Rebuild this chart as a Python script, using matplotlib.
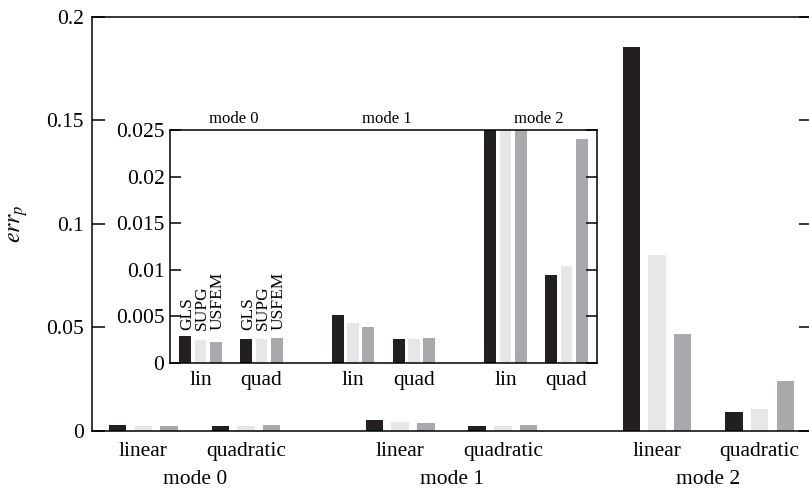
import numpy as np
import matplotlib
matplotlib.use("Agg")
import matplotlib.pyplot as plt

plt.rcParams["font.family"] = ["Liberation Serif", "DejaVu Serif"]
plt.rcParams["mathtext.fontset"] = "stix"

modes = ["mode 0", "mode 1", "mode 2"]
orders = ["linear", "quadratic"]
short_orders = ["lin", "quad"]
methods = ["GLS", "SUPG", "USFEM"]
colors = ["#231f20", "#e6e7e8", "#a7a9ac"]

# err_p per method, groups: m0 lin, m0 quad, m1 lin, m1 quad, m2 lin, m2 quad
gls = [0.0029, 0.0026, 0.0051, 0.0026, 0.1855, 0.0094]
supg = [0.0025, 0.0026, 0.0043, 0.0026, 0.085, 0.0104]
usfem = [0.0023, 0.0027, 0.0039, 0.0027, 0.047, 0.024]
values = [gls, supg, usfem]

# group centres: 4 apart within a mode, 10 apart between modes
centers = np.array([0, 4, 10, 14, 20, 24])
mode_centers = np.array([2, 12, 22])

fig = plt.figure(figsize=(8.09, 4.93), dpi=100)
ax = fig.add_axes([92 / 809, 1 - 431 / 493, (811 - 92) / 809, (431 - 16.5) / 493])

for k in range(3):
    ax.bar(centers + (k - 1), values[k], width=0.68, color=colors[k], linewidth=0)

ax.set_xlim(-2, 26)
ax.set_ylim(0, 0.2)
ax.set_yticks([0, 0.05, 0.1, 0.15, 0.2])
ax.set_yticklabels(["0", "0.05", "0.1", "0.15", "0.2"])
ax.tick_params(axis="y", direction="in", length=9, width=1.1, labelsize=15.5,
               right=True, pad=6)
ax.set_xticks(centers)
ax.set_xticklabels(orders * 3)
ax.tick_params(axis="x", length=0, labelsize=15.5, pad=8)
for i, m in enumerate(modes):
    ax.text(mode_centers[i], -0.118, m, ha="center", va="center", fontsize=15.5,
            transform=ax.get_xaxis_transform())
for s in ax.spines.values():
    s.set_linewidth(1.1)
ax.set_ylabel("$err_p$", fontsize=17)
ax.yaxis.set_label_coords(-0.086, 0.5)

# inset zoom
ins = fig.add_axes([170 / 809, 1 - 363 / 493, (597 - 170) / 809, (363 - 130) / 493])
ins.set_facecolor("white")
for k in range(3):
    ins.bar(centers + (k - 1), values[k], width=0.78, color=colors[k], linewidth=0)
ins.set_xlim(-2, 26)
ins.set_ylim(0, 0.025)
ins.set_yticks([0, 0.005, 0.01, 0.015, 0.02, 0.025])
ins.set_yticklabels(["0", "0.005", "0.01", "0.015", "0.02", "0.025"])
ins.tick_params(axis="y", direction="in", length=8, width=1.1, labelsize=15.5,
                right=True, pad=4)
ins.set_xticks(centers)
ins.set_xticklabels(short_orders * 3)
ins.tick_params(axis="x", length=0, labelsize=15.5, pad=6)
for s in ins.spines.values():
    s.set_linewidth(1.1)
for i, m in enumerate(modes):
    ins.text(mode_centers[i] + 0.2, 1.015, m, ha="center", va="bottom", fontsize=12,
             transform=ins.get_xaxis_transform())
for c in centers[:2]:
    for k in range(3):
        ins.text(c + (k - 1) + 0.1, 0.0035, methods[k], rotation=90, ha="center",
                 va="bottom", fontsize=12.5, linespacing=1.0)

fig.savefig("out.png", dpi=100)
